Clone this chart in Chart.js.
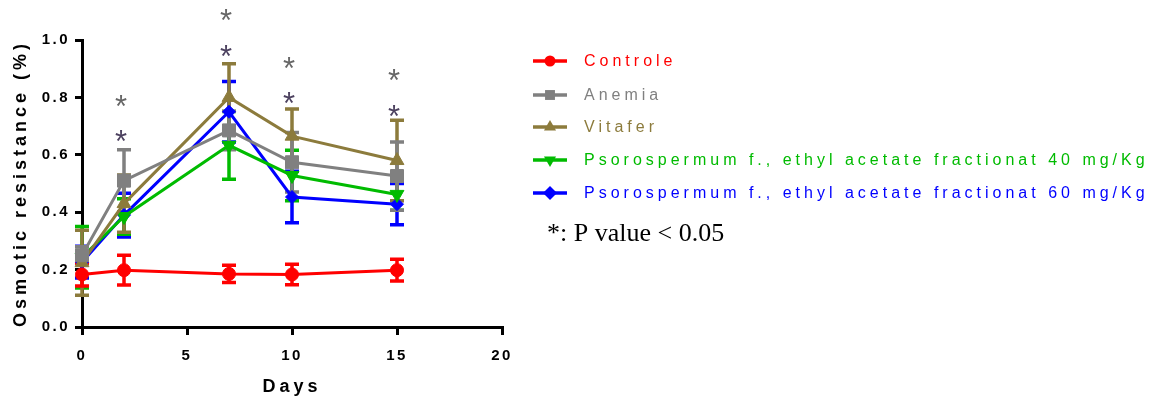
<!DOCTYPE html>
<html>
<head>
<meta charset="utf-8">
<script src="https://cdn.jsdelivr.net/npm/chart.js@4.4.0/dist/chart.umd.min.js"></script>
<style>
  html, body { margin: 0; padding: 0; background: #fff; }
</style>
</head>
<body>
<canvas id="osmoticChart" width="1163" height="403"></canvas>
<script>
// x values (days)
const days = [0, 2, 7, 10, 15];

const seriesNames = [
    'Controle',
    'Anemia',
    'Vitafer',
    'Psorospermum f., ethyl acetate fractionat 40 mg/Kg',
    'Psorospermum f., ethyl acetate fractionat 60 mg/Kg'
];

// means
const controle = [0.183, 0.198, 0.185, 0.183, 0.198];
const anemia   = [0.250, 0.510, 0.685, 0.574, 0.526];
const vitafer  = [0.224, 0.430, 0.800, 0.665, 0.580];
const psoro40  = [0.243, 0.385, 0.633, 0.528, 0.462];
const psoro60  = [0.226, 0.390, 0.750, 0.453, 0.428];

// error bars (+/-)
const controleErr = [0.040, 0.052, 0.030, 0.036, 0.038];
const anemiaErr   = [0.030, 0.108, 0.067, 0.104, 0.119];
const vitaferErr  = [0.113, 0.100, 0.117, 0.095, 0.140];
const psoro40Err  = [0.107, 0.062, 0.118, 0.088, 0.055];
const psoro60Err  = [0.055, 0.076, 0.105, 0.090, 0.072];

// significance marks
const starDays   = [2, 7, 10, 15];
const starsUpper = [0.790, 1.089, 0.925, 0.880];
const starsLower = [0.668, 0.966, 0.803, 0.757];

const xTicks = [0, 5, 10, 15, 20];
const yTicks = [0.0, 0.2, 0.4, 0.6, 0.8, 1.0];

const colors = ['#ff0000', '#808080', '#8c7b3c', '#00bb00', '#0000ff'];
const styles = [
    { pointStyle: 'circle', radius: 6.5, rotation: 0 },
    { pointStyle: 'rect', radius: 9.2, rotation: 0 },
    { pointStyle: 'triangle', radius: 8, rotation: 0 },
    { pointStyle: 'triangle', radius: 8, rotation: 180 },
    { pointStyle: 'rectRot', radius: 6.5, rotation: 0 }
];

const means = [controle, anemia, vitafer, psoro40, psoro60];
const errors = [controleErr, anemiaErr, vitaferErr, psoro40Err, psoro60Err];

const TICK_SPACING = '2.5px';
const TITLE_SPACING = '4px';

const datasets = means.map((vals, i) => ({
    label: seriesNames[i],
    data: vals.map((v, j) => ({ x: days[j], y: v })),
    borderColor: colors[i],
    backgroundColor: colors[i],
    borderWidth: 3,
    pointStyle: styles[i].pointStyle,
    pointRadius: styles[i].radius,
    pointRotation: styles[i].rotation,
    pointBackgroundColor: colors[i],
    pointBorderColor: colors[i],
    pointBorderWidth: 1,
    tension: 0,
    clip: false
}));

// letter spacing like the original export
const spacingPlugin = {
    id: 'spacing',
    beforeLayout(chart) { chart.ctx.letterSpacing = TICK_SPACING; },
    afterLayout(chart) {
        Object.values(chart.scales).forEach(scale => {
            if (scale._titlePatched) return;
            const orig = scale.drawTitle;
            scale.drawTitle = function () {
                const ctx = this.ctx;
                const prev = ctx.letterSpacing;
                ctx.letterSpacing = TITLE_SPACING;
                orig.call(this);
                ctx.letterSpacing = prev;
            };
            scale._titlePatched = true;
        });
    },
    beforeDraw(chart) { chart.ctx.letterSpacing = TICK_SPACING; }
};

const errorBarPlugin = {
    id: 'errorBars',
    beforeDatasetsDraw(chart) {
        const ctx = chart.ctx;
        const xs = chart.scales.x, ys = chart.scales.y;
        ctx.save();
        ctx.lineWidth = 3.5;
        for (let i = means.length - 1; i >= 0; i--) {
            ctx.strokeStyle = colors[i];
            means[i].forEach((v, j) => {
                const x = xs.getPixelForValue(days[j]);
                const yt = ys.getPixelForValue(v + errors[i][j]);
                const yb = ys.getPixelForValue(v - errors[i][j]);
                ctx.beginPath();
                ctx.moveTo(x, yt); ctx.lineTo(x, yb);
                ctx.moveTo(x - 7, yt); ctx.lineTo(x + 7, yt);
                ctx.moveTo(x - 7, yb); ctx.lineTo(x + 7, yb);
                ctx.stroke();
            });
        }
        ctx.restore();
    }
};

const starPlugin = {
    id: 'stars',
    afterDatasetsDraw(chart) {
        const ctx = chart.ctx;
        const xs = chart.scales.x, ys = chart.scales.y;
        ctx.save();
        ctx.letterSpacing = '0px';
        ctx.font = '31px Arial, "Liberation Sans", sans-serif';
        ctx.textAlign = 'center';
        ctx.textBaseline = 'alphabetic';
        starDays.forEach((d, k) => {
            const x = xs.getPixelForValue(d) - 3;
            ctx.fillStyle = '#676767';
            ctx.fillText('*', x, ys.getPixelForValue(starsUpper[k]) + 17);
            ctx.fillStyle = '#4d4260';
            ctx.fillText('*', x, ys.getPixelForValue(starsLower[k]) + 17);
        });
        ctx.restore();
    }
};

const sideLegendPlugin = {
    id: 'sideLegend',
    afterDraw(chart) {
        const ctx = chart.ctx;
        const rowY = [61, 95, 127, 160, 193];
        const legendRadius = [5.5, 7, 7, 7, 7];
        ctx.save();
        seriesNames.forEach((name, i) => {
            const y = rowY[i];
            ctx.strokeStyle = colors[i];
            ctx.fillStyle = colors[i];
            ctx.lineWidth = 3.5;
            ctx.beginPath();
            ctx.moveTo(533, y);
            ctx.lineTo(567, y);
            ctx.stroke();
            Chart.helpers.drawPoint(ctx, {
                pointStyle: styles[i].pointStyle,
                radius: legendRadius[i],
                rotation: styles[i].rotation,
                borderWidth: 0
            }, 550, y);
            ctx.letterSpacing = '4px';
            ctx.font = '16px Arial, "Liberation Sans", sans-serif';
            ctx.textAlign = 'left';
            ctx.textBaseline = 'middle';
            ctx.fillText(name, 584, y + 1);
        });
        ctx.letterSpacing = '0px';
        ctx.fillStyle = '#000';
        ctx.font = '26px "Times New Roman", "Liberation Serif", serif';
        ctx.textAlign = 'left';
        ctx.textBaseline = 'middle';
        ctx.fillText('*: P value < 0.05', 547, 234);
        ctx.restore();
    }
};

const tickFont = { family: 'Arial, "Liberation Sans", sans-serif', size: 15, weight: 'bold' };
const titleFont = { family: 'Arial, "Liberation Sans", sans-serif', size: 18, weight: 'bold' };

new Chart(document.getElementById('osmoticChart').getContext('2d'), {
    type: 'line',
    data: { datasets: datasets },
    options: {
        responsive: false,
        devicePixelRatio: 1,
        animation: false,
        layout: { padding: { top: 40, right: 661, left: 0, bottom: 0 } },
        plugins: {
            legend: { display: false },
            tooltip: { enabled: false }
        },
        scales: {
            x: {
                type: 'linear',
                min: 0,
                max: 20,
                afterFit(scale) { scale.height = 76; },
                afterBuildTicks(scale) { scale.ticks = xTicks.map(v => ({ value: v })); },
                ticks: { color: '#000', font: tickFont, padding: 12, maxRotation: 0 },
                grid: { display: true, drawOnChartArea: false, drawTicks: true, tickLength: 8, color: '#000', lineWidth: 3 },
                border: { display: true, color: '#000', width: 3 },
                title: { display: true, text: 'Days', color: '#000', font: titleFont, padding: { top: 0, bottom: 5 } }
            },
            y: {
                type: 'linear',
                min: 0,
                max: 1,
                afterFit(scale) { scale.width = 82; },
                afterBuildTicks(scale) { scale.ticks = yTicks.map(v => ({ value: v })); },
                ticks: { color: '#000', font: tickFont, padding: 5, callback: v => v.toFixed(1) },
                grid: { display: true, drawOnChartArea: false, drawTicks: true, tickLength: 7, color: '#000', lineWidth: 3 },
                border: { display: true, color: '#000', width: 3 },
                title: { display: true, text: 'Osmotic resistance (%)', color: '#000', font: titleFont, padding: { top: 10, bottom: 0 } }
            }
        }
    },
    plugins: [spacingPlugin, errorBarPlugin, starPlugin, sideLegendPlugin]
});
</script>
</body>
</html>
